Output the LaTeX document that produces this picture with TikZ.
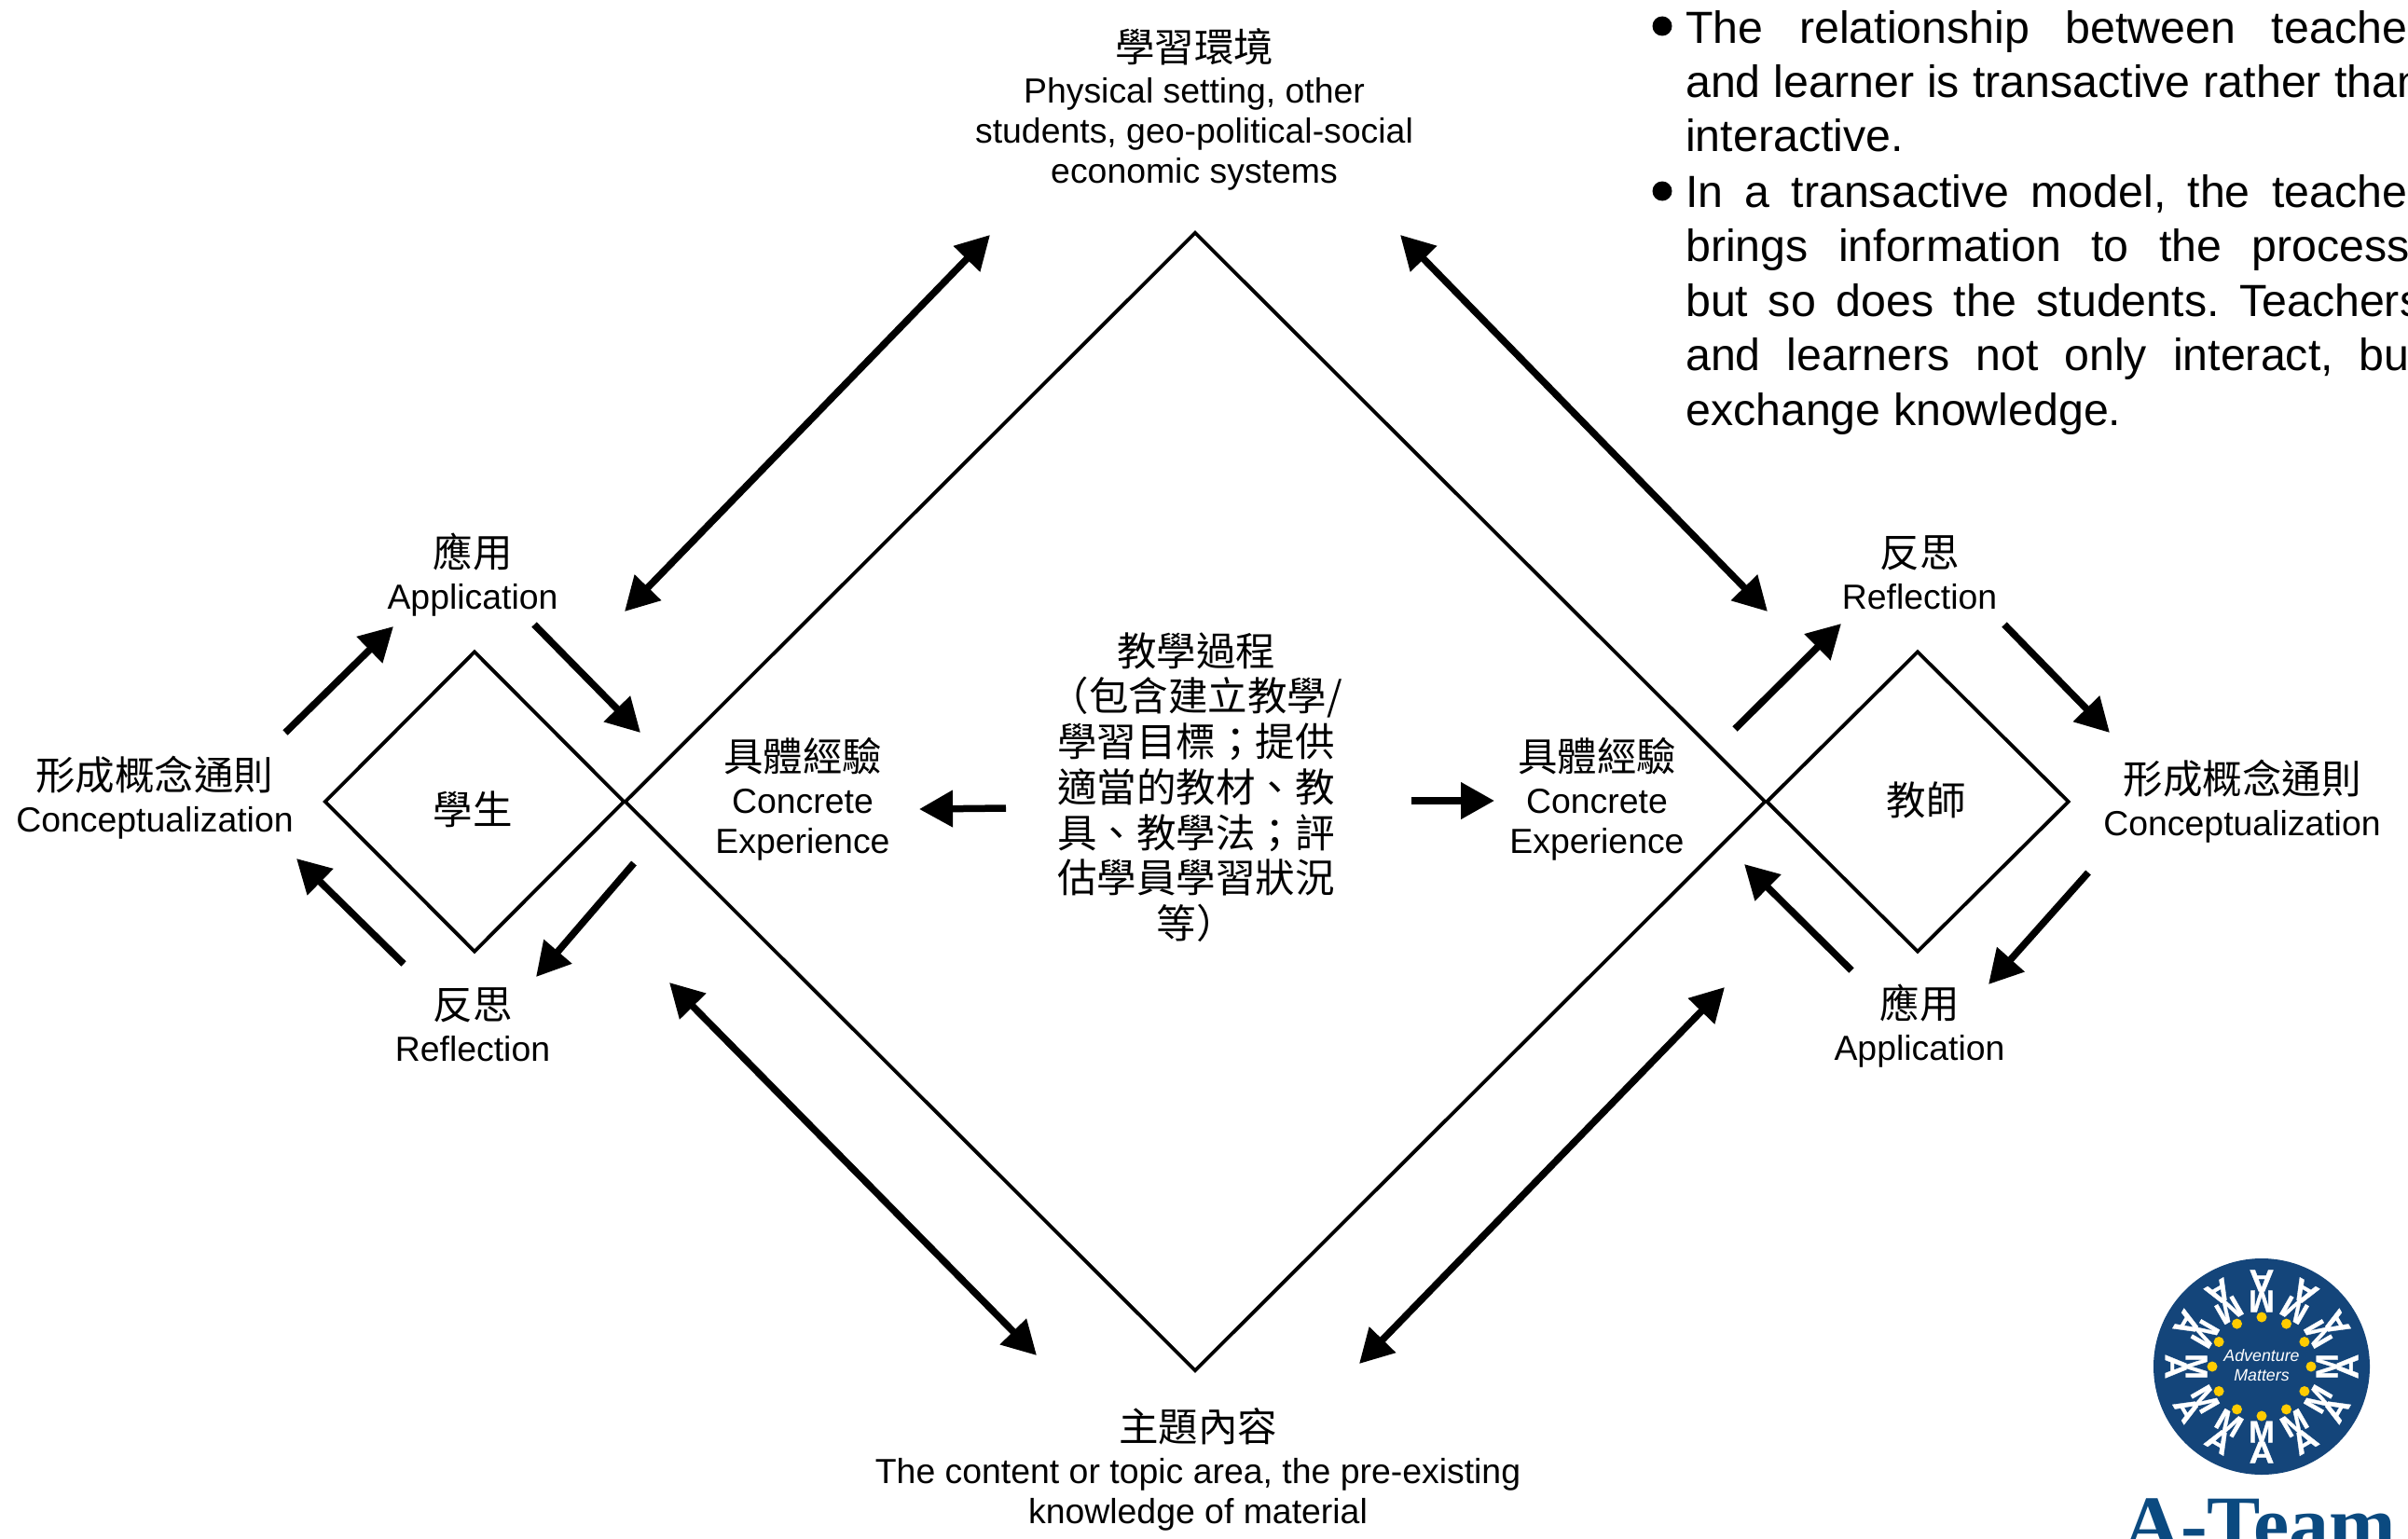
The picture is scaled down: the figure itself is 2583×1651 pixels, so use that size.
\documentclass[tikz,border=0pt]{standalone}
\usepackage{fontspec}
\setmainfont{Liberation Sans}
\newfontfamily\cjkfont{Noto Sans CJK TC}
\newfontfamily\logoserif{Liberation Serif}
\newfontfamily\logobold[BoldFeatures={FakeBold=1}]{Liberation Sans}
\usetikzlibrary{arrows.meta,shapes.geometric}
\newcommand{\zhtxt}[1]{{\cjkfont\fontsize{42.5}{48}\selectfont #1}}
\definecolor{logonavy}{HTML}{14457A}
\definecolor{logotext}{HTML}{0B4A80}
\definecolor{logodot}{HTML}{FFCC00}
\tikzset{
  >={Triangle[length=36pt,width=38pt]},
  rhomb/.style={draw,diamond,shape aspect=1,inner sep=0pt,line width=3.8pt},
  lbl/.style={inner sep=0pt,align=center,font=\fontsize{37.4}{43}\selectfont},
  zhl/.style={inner sep=0pt,align=center,font=\cjkfont\fontsize{42.5}{48.7}\selectfont},
  flow/.style={->,line width=7.5pt},
  both/.style={<->,line width=7.5pt},
  para/.style={inner sep=0pt,anchor=base west},
  dotb/.style={fill=black,circle,inner sep=0pt,minimum size=21pt},
  logol/.style={text=white,inner sep=0pt,font=\logobold\bfseries\fontsize{33}{33}\selectfont}
}
\begin{document}
\begin{tikzpicture}[x=1pt,y=-1pt]
\useasboundingbox (0,0) rectangle (2583,1651);
% diamonds
\node[rhomb,minimum width=1224pt,minimum height=1222pt] (big) at (1282,860) {};
\node[rhomb,minimum width=322pt,minimum height=323pt] (stud) at (509,860) {};
\node[rhomb,minimum width=325pt,minimum height=323pt] (teach) at (2057,860) {};
% labels
\node[lbl] (env) at (1281,117) {\zhtxt{學習環境}\\[1pt]Physical setting, other\\students, geo-political-social\\economic systems};
\node[lbl] (appl) at (507,616.5) {\zhtxt{應用}\\[2pt]Application};
\node[lbl] (conl) at (166,855.5) {\zhtxt{形成概念通則}\\[2pt]Conceptualization};
\node[lbl] (stl) at (507,868) {\zhtxt{學生}};
\node[lbl] (refl) at (507,1099.5) {\zhtxt{反思}\\[2pt]Reflection};
\node[lbl] (cel) at (861,857) {\zhtxt{具體經驗}\\[2pt]Concrete\\Experience};
\node[zhl] (proc) at (1283,844.5) {教學過程\\（包含建立教學/\\學習目標；提供\\適當的教材、教\\具、教學法；評\\估學員學習狀況\\等）};
\node[lbl] (cer) at (1713,857) {\zhtxt{具體經驗}\\[2pt]Concrete\\Experience};
\node[lbl] (refr) at (2059,614) {\zhtxt{反思}\\[2pt]Reflection};
\node[lbl] (ter) at (2066,858) {\zhtxt{教師}};
\node[lbl] (conr) at (2405,859.5) {\zhtxt{形成概念通則}\\[2pt]Conceptualization};
\node[lbl] (appr) at (2059,1101) {\zhtxt{應用}\\[2pt]Application};
\node[lbl] (cont) at (1285,1576.5) {\zhtxt{主題內容}\\[2pt]The content or topic area, the pre-existing\\knowledge of material};
% arrow end points
\coordinate (a1) at (1062,252); \coordinate (a2) at (670,656);
\coordinate (b1) at (1502,252); \coordinate (b2) at (1896,656);
\coordinate (c1) at (718,1054); \coordinate (c2) at (1112,1454);
\coordinate (d1) at (1850,1059); \coordinate (d2) at (1458,1463);
\coordinate (e1) at (306,786); \coordinate (e2) at (422,672);
\coordinate (f1) at (573,670); \coordinate (f2) at (687,786);
\coordinate (g1) at (680,926); \coordinate (g2) at (575,1048);
\coordinate (h1) at (433,1034); \coordinate (h2) at (318,921);
\coordinate (i1) at (1861,782); \coordinate (i2) at (1975,669);
\coordinate (j1) at (2150,670); \coordinate (j2) at (2263,786);
\coordinate (k1) at (2240,936); \coordinate (k2) at (2133,1056);
\coordinate (l1) at (1986,1041); \coordinate (l2) at (1871,927);
\coordinate (m1) at (1079,867); \coordinate (m2) at (986,868);
\coordinate (n1) at (1514,859); \coordinate (n2) at (1603,859);
\draw[both] (a1) -- (a2);
\draw[both] (b1) -- (b2);
\draw[both] (c1) -- (c2);
\draw[both] (d1) -- (d2);
\foreach \p in {e,f,g,h,i,j,k,l,m,n} \draw[flow] (\p1) -- (\p2);
% text block at the upper right
\node[dotb] (b1dot) at (1783,28) {};
\node[dotb] (b2dot) at (1783,205) {};
\node[para] (p1) at (1808,47) {\parbox[t]{790pt}{\frenchspacing\fontsize{48.3}{58}\selectfont The relationship between teacher\linebreak and learner is transactive rather than\linebreak interactive.}};
\node[para] (p2) at (1808,222) {\parbox[t]{790pt}{\frenchspacing\fontsize{48.3}{58.5}\selectfont In a transactive model, the teacher\linebreak brings information to the process,\linebreak but so does the students. Teachers\linebreak and learners not only interact, but\linebreak exchange knowledge.}};
% logo
\fill[logonavy] (2426,1466) circle (116);
\begin{scope}[shift={(2426,1466)},y=1pt]
  \foreach \a in {0,30,...,330}{
    \fill[logodot] (\a:53) circle (5.5);
    \node[logol,rotate=\a+90] at (\a:70) {M};
    \node[logol,rotate=\a+90,xscale=1.12] at (\a:92) {A};
  }
\end{scope}
\node[text=white,inner sep=0pt,align=center,font=\itshape\fontsize{17.8}{21}\selectfont] (slogan) at (2426,1465) {Adventure\\Matters};
\node[text=logotext,inner sep=0pt,anchor=base west,font=\logoserif\bfseries\fontsize{86}{86}\selectfont] (team) at (2277,1664) {A-Team};
\end{tikzpicture}
\end{document}
